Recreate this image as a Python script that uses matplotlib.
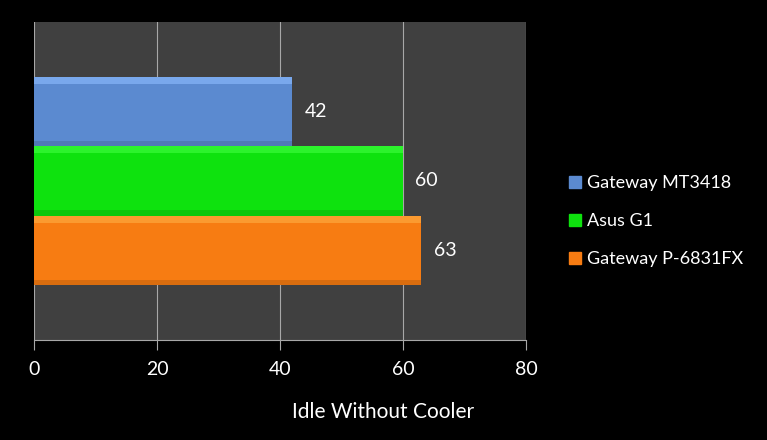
import matplotlib.pyplot as plt
from matplotlib.patches import Rectangle
import numpy as np

series = ['Gateway MT3418', 'Asus G1', 'Gateway P-6831FX']
values = [42, 60, 63]
colors = ['#5b8ad0', '#0ee20e', '#f77c12']
xticks = [0, 20, 40, 60, 80]
xlabel = 'Idle Without Cooler'

plt.rcParams['font.family'] = ['Lato', 'DejaVu Sans']

fig = plt.figure(figsize=(7.67, 4.40), dpi=100, facecolor='black')
ax = fig.add_axes([34/767, 100/440, 492/767, 318/440])
ax.set_facecolor('#404040')

# bars top to bottom: first series at top
ypos = [1, 0, -1]
h = 1.0
for y, v, c in zip(ypos, values, colors):
    ax.barh(y, v, height=h, color=c, edgecolor='none', zorder=3)
    # simple bevel: light strip on top, dark strip at bottom
    base = np.array(plt.matplotlib.colors.to_rgb(c))
    light = np.clip(base + 0.2, 0, 1)
    dark = base * 0.8
    ax.barh(y + h*0.45, v, height=h*0.10, color=light, edgecolor='none', zorder=4, alpha=0.6)
    ax.barh(y - h*0.46, v, height=h*0.08, color=dark, edgecolor='none', zorder=4, alpha=0.6)
    ax.text(v + 2, y, str(v), color='white', fontsize=14, va='center', ha='left', zorder=5)

ax.set_xlim(0, 80)
ax.set_ylim(-2.29, 2.29)
ax.set_xticks(xticks)
ax.set_xticklabels([str(t) for t in xticks], color='white', fontsize=14)
ax.set_yticks([])
ax.grid(axis='x', color='#a8a8a8', linewidth=0.8, zorder=1)
ax.tick_params(axis='x', colors='#a8a8a8', length=7, width=0.8, pad=8, labelcolor='white')
for s in ['top', 'right', 'left']:
    ax.spines[s].set_visible(False)
ax.spines['bottom'].set_color('#a8a8a8')
ax.spines['bottom'].set_linewidth(0.8)

fig.text(383/767, 1 - 412/440, xlabel, color='white', fontsize=15, ha='center', va='center')

handles = [Rectangle((0, 0), 1, 1, color=c) for c in colors]
leg = fig.legend(handles, series, loc='upper left', bbox_to_anchor=(569/767, 1 - 175/440),
                 frameon=False, fontsize=13, labelcolor='white', handlelength=0.65, handleheight=0.65,
                 handletextpad=0.35, labelspacing=1.22, borderpad=0, borderaxespad=0)

fig.savefig('out.png', dpi=100, facecolor='black')
